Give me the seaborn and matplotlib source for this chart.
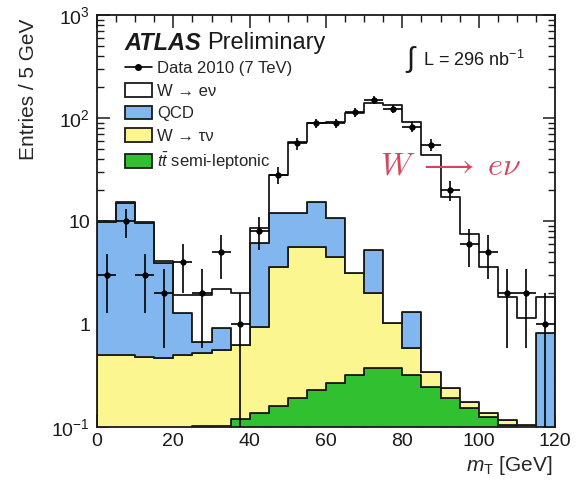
import matplotlib

matplotlib.use("Agg")
import matplotlib.pyplot as plt
from matplotlib.lines import Line2D
from matplotlib.patches import Patch
from matplotlib.ticker import FixedLocator, FixedFormatter, MultipleLocator, LogLocator, NullFormatter
import numpy as np
import pandas as pd
import seaborn as sns

# transverse mass bins, 5 GeV wide
bin_edges = list(range(0, 125, 5))
bin_centers = [e + 2.5 for e in bin_edges[:-1]]

samples = ["W \u2192 e\u03bd", "QCD", "W \u2192 \u03c4\u03bd", r"$t\bar{t}$ semi-leptonic"]

w_enu = [0.2, 0.3, 0.2, 0.2, 0.63, 1.23, 1.28, 1.37, 2.4, 16.0, 46.5, 73.7,
         81.3, 108.9, 134.8, 132.0, 90.7, 43.7, 16.8, 7.3, 3.46, 1.71, 1.04, 1.01]
qcd = [9.3, 14.5, 9.1, 3.4, 0.78, 0.15, 0.35, 0.0, 5.2, 8.4, 6.4, 9.7,
       6.2, 0.0, 3.2, 0.0, 0.73, 0.0, 0.0, 0.0, 0.0, 0.0, 0.0, 0.82]
w_taunu = [0.50, 0.50, 0.48, 0.47, 0.50, 0.42, 0.46, 0.50, 0.80, 3.41, 5.41, 5.37,
           4.20, 2.81, 1.63, 0.65, 0.265, 0.097, 0.05, 0.022, 0.012, 0.012, 0.105, 0.0]
ttbar = [0.0, 0.0, 0.0, 0.0, 0.0, 0.102, 0.102, 0.12, 0.137, 0.16, 0.19, 0.23,
         0.27, 0.32, 0.37, 0.37, 0.32, 0.245, 0.19, 0.153, 0.125, 0.105, 0.0, 0.0]

data_2010 = [3, 10, 3, 2, 4, 2, 5, 1, 8, 28, 57, 89,
             89, 114, 150, 122, 82, 55, 20, 6, 5, 2, 2, 1]

DARK = "#1a1a1a"
WHITE = "#ffffff"
BLUE = "#82b6ee"
YELLOW = "#fbf68f"
GREEN = "#30c030"
RED = "#d6455d"

sns.set_theme(style="ticks")
plt.rcParams.update(
    {
        "font.family": ["Liberation Sans", "DejaVu Sans"],
        "mathtext.fontset": "custom",
        "mathtext.rm": "Liberation Sans",
        "mathtext.it": "Liberation Sans:italic",
        "mathtext.bf": "Liberation Sans:bold",
        "axes.edgecolor": DARK,
        "axes.linewidth": 1.3,
        "xtick.color": DARK,
        "ytick.color": DARK,
    }
)

mc = pd.DataFrame(
    {
        "mt": bin_centers * 4,
        "entries": w_enu + qcd + w_taunu + ttbar,
        "sample": [s for s in samples for _ in bin_centers],
    }
)

fig = plt.figure(figsize=(5.81, 4.86), dpi=100)
ax = fig.add_axes([97 / 581, 1 - 427 / 486, 458 / 581, 412 / 486])

sns.histplot(
    data=mc,
    x="mt",
    weights="entries",
    hue="sample",
    hue_order=samples,
    palette=[WHITE, BLUE, YELLOW, GREEN],
    multiple="stack",
    element="step",
    bins=bin_edges,
    alpha=1,
    edgecolor=DARK,
    linewidth=1.3,
    legend=False,
    ax=ax,
)

data = np.array(data_2010, dtype=float)
ax.errorbar(
    bin_centers,
    data,
    xerr=2.5,
    yerr=np.sqrt(data),
    fmt="o",
    color="black",
    markersize=3.5,
    elinewidth=1.2,
    capsize=0,
    zorder=5,
)

ax.set_yscale("log")
ax.set_xlim(0, 120)
ax.set_ylim(0.1, 1000)

ax.xaxis.set_major_locator(MultipleLocator(20))
ax.xaxis.set_minor_locator(MultipleLocator(5))
ax.yaxis.set_major_locator(FixedLocator([0.1, 1, 10, 100, 1000]))
ax.yaxis.set_major_formatter(FixedFormatter([r"$10^{-1}$", "1", "10", r"$10^{2}$", r"$10^{3}$"]))
ax.yaxis.set_minor_locator(LogLocator(base=10, subs=np.arange(2, 10)))
ax.yaxis.set_minor_formatter(NullFormatter())
ax.tick_params(which="both", direction="in", top=True, right=True, labelsize=14, color=DARK)
ax.tick_params(which="major", length=9, width=1.1)
ax.tick_params(which="minor", length=5, width=1.0)
ax.tick_params(axis="x", pad=4)
ax.tick_params(axis="y", pad=5)

ax.set_xlabel(r"$m_{\mathrm{T}}$ [GeV]", fontsize=15, loc="right")
ax.set_ylabel("Entries / 5 GeV", fontsize=15, loc="top")
ax.xaxis.set_label_coords(0.995, -0.065)
ax.yaxis.set_label_coords(-0.128, 0.99)

ax.text(0.061, 0.932, "ATLAS", transform=ax.transAxes, fontsize=17, fontweight="bold",
        fontstyle="italic", va="center", ha="left", color=DARK)
ax.text(0.240, 0.932, "Preliminary", transform=ax.transAxes, fontsize=17, va="center",
        ha="left", color=DARK)

# luminosity label: tall integral sign followed by the text
ax.text(0.672, 0.893, r"$\int$", transform=ax.transAxes, fontsize=21,
        va="center", ha="left", color=DARK)
ax.text(0.712, 0.890, r"L = 296 nb$^{-1}$", transform=ax.transAxes, fontsize=13,
        va="center", ha="left", color=DARK)

ax.text(0.772, 0.632, r"$W\;\longrightarrow\;e\nu$", transform=ax.transAxes, fontsize=23,
        va="center", ha="center", color=RED, math_fontfamily="cm")

handles = [
    Line2D([], [], color="black", marker="o", markersize=4, lw=1.2),
    Patch(facecolor=WHITE, edgecolor=DARK, linewidth=1.3),
    Patch(facecolor=BLUE, edgecolor=DARK, linewidth=1.3),
    Patch(facecolor=YELLOW, edgecolor=DARK, linewidth=1.3),
    Patch(facecolor=GREEN, edgecolor=DARK, linewidth=1.3),
]
labels = ["Data 2010 (7 TeV)"] + samples
ax.legend(
    handles,
    labels,
    loc="upper left",
    bbox_to_anchor=(0.061, 0.890),
    frameon=False,
    fontsize=12,
    borderpad=0,
    borderaxespad=0,
    handlelength=1.6,
    handleheight=0.9,
    handletextpad=0.35,
    labelspacing=0.42,
)

fig.savefig("out.png", dpi=100)
